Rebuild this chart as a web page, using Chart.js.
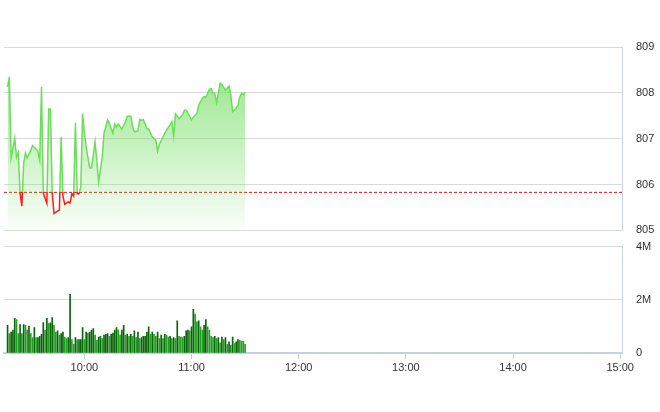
<!DOCTYPE html>
<html>
<head>
<meta charset="utf-8">
<script src="https://cdn.jsdelivr.net/npm/chart.js@4/dist/chart.umd.min.js"></script>
<style>
  html, body { margin: 0; padding: 0; background: #fff; }
  body { width: 660px; height: 412px; position: relative; overflow: hidden; }
  canvas { position: absolute; left: 0; }
  #price { top: 0; }
  #volume { top: 226px; }
</style>
</head>
<body>
<canvas id="volume" width="660" height="186"></canvas>
<canvas id="price" width="660" height="251"></canvas>
<script>
// intraday price
const priceTimes = [
  "09:17","09:18","09:19","09:21","09:22","09:23","09:24","09:25","09:26","09:27",
  "09:28","09:30","09:31","09:33","09:34","09:35","09:36","09:37","09:38","09:39",
  "09:40","09:41","09:42","09:43","09:45","09:46","09:47","09:48","09:49","09:51",
  "09:52","09:53","09:54","09:55","09:56","09:57","09:58","09:59","10:00","10:01",
  "10:03","10:04","10:05","10:06","10:08","10:10","10:11","10:13","10:14","10:16",
  "10:17","10:18","10:19","10:21","10:23","10:24","10:26","10:27","10:28","10:30",
  "10:31","10:32","10:33","10:35","10:36","10:38","10:40","10:41","10:42","10:44",
  "10:46","10:48","10:49","10:50","10:51","10:53","10:55","10:56","10:57","10:59",
  "11:00","11:01","11:03","11:04","11:06","11:07","11:08","11:10","11:11","11:12",
  "11:13","11:14","11:16","11:17","11:19","11:20","11:21","11:22","11:23","11:24",
  "11:26","11:27","11:28","11:29","11:30"
];
const priceValues = [
  808.13,808.35,806.58,807.01,806.60,806.70,805.81,805.53,806.47,806.69,
  806.58,806.75,806.85,806.77,806.72,806.53,808.13,805.81,805.70,805.59,
  807.65,807.65,805.81,805.37,805.42,805.44,807.04,805.75,805.57,805.62,
  805.60,805.80,805.75,807.35,805.80,805.80,805.95,807.55,807.12,806.82,
  806.36,806.36,806.64,806.93,806.06,806.60,807.12,807.41,807.33,807.12,
  807.32,807.25,807.32,807.21,807.37,807.49,807.49,807.26,807.15,807.17,
  807.42,807.40,807.42,807.22,807.21,807.04,806.97,806.73,806.88,807.04,
  807.19,807.30,807.37,807.06,807.54,807.44,807.52,807.62,807.62,807.49,
  807.41,807.47,807.55,807.73,807.88,807.92,807.90,808.08,808.09,808.00,
  807.99,807.78,808.21,808.18,808.06,808.10,808.15,807.95,807.59,807.62,
  807.73,807.91,807.99,807.96,808.02
];
const refPrice = 805.83;

// volume per minute (millions), first bar at volumeStart
const volumeStart = "09:17";
const volumeValues = [
  1.04,0.73,0.79,0.86,1.30,1.26,0.73,1.07,0.73,1.07,
  1.04,0.86,1.01,0.73,0.58,0.96,0.58,0.58,0.63,0.70,
  1.14,0.86,1.30,1.11,1.13,1.33,1.04,0.79,0.83,0.67,
  0.73,0.79,0.60,0.54,0.58,2.21,
  0.50,0.33,0.58,0.50,0.50,0.50,0.96,0.50,0.79,0.75,
  0.79,0.86,0.92,0.67,0.48,0.60,0.63,0.54,0.67,
  0.70,0.73,0.63,0.70,0.75,0.86,0.96,0.86,0.67,
  0.86,1.04,0.67,0.70,0.63,0.70,0.63,0.83,0.58,0.79,0.54,0.58,0.63,
  0.63,0.79,0.98,0.70,0.79,0.70,0.63,0.79,0.54,0.67,0.54,0.70,0.67,0.60,0.63,0.54,0.58,0.54,
  1.21,0.63,0.60,0.58,0.63,0.83,0.86,0.83,0.98,1.64,
  1.46,1.17,1.21,0.98,0.86,1.04,1.26,0.98,
  0.86,0.63,0.58,0.63,0.54,0.58,
  0.38,0.60,0.50,0.58,0.33,0.42,0.29,0.60,0.35,0.42,
  0.50,0.48,0.45,0.44,0.33
];

const sessionStart = "09:15";
const sessionEnd = "15:00";
const timeTicks = ["10:00","11:00","12:00","13:00","14:00","15:00"];
const priceTicks = [805, 806, 807, 808, 809];
const volumeTicks = [0, 2, 4];

function toMin(t) {
  const p = t.split(":");
  return parseInt(p[0], 10) * 60 + parseInt(p[1], 10);
}
function fmtTime(m) {
  const h = Math.floor(m / 60), mm = m % 60;
  return h + ":" + (mm < 10 ? "0" : "") + mm;
}

const xMin = toMin(sessionStart);
const xMax = toMin(sessionEnd) + 1;
const FONT = { family: "'Liberation Sans', Arial, sans-serif", size: 11 };
const GREEN = "#6ade58";
const RED = "#ff1a1a";

const pricePoints = priceTimes.map((t, i) => ({ x: toMin(t), y: priceValues[i] }));
const v0 = toMin(volumeStart);
const volumePoints = volumeValues.map((v, i) => ({ x: v0 + i, y: v }));
const volumeColors = volumeValues.map((v, i) => (i > 0 && v < volumeValues[i - 1] ? "#22a022" : "#0a640a"));

function lineColor(ctx) {
  const chart = ctx.chart;
  const a = chart.chartArea;
  if (!a) return GREEN;
  const yRef = chart.scales.y.getPixelForValue(refPrice);
  const stop = Math.min(1, Math.max(0, (yRef - a.top) / (a.bottom - a.top)));
  const g = chart.ctx.createLinearGradient(0, a.top, 0, a.bottom);
  g.addColorStop(0, GREEN);
  g.addColorStop(stop, GREEN);
  g.addColorStop(stop, RED);
  g.addColorStop(1, RED);
  return g;
}

function fillColor(ctx) {
  const chart = ctx.chart;
  const a = chart.chartArea;
  if (!a) return "rgba(0,0,0,0)";
  const g = chart.ctx.createLinearGradient(0, a.top, 0, a.bottom);
  g.addColorStop(0, "rgba(110,220,90,0.80)");
  g.addColorStop(1, "rgba(110,220,90,0.03)");
  return g;
}

new Chart(document.getElementById("price"), {
  type: "line",
  data: {
    datasets: [
      {
        data: pricePoints,
        borderColor: lineColor,
        backgroundColor: fillColor,
        borderWidth: 1.5,
        pointRadius: 0,
        fill: "start",
        tension: 0,
      },
      {
        data: [{ x: xMin, y: refPrice }, { x: xMax, y: refPrice }],
        borderColor: "#e01010",
        borderWidth: 1,
        borderDash: [3, 2],
        pointRadius: 0,
        fill: false,
      },
    ],
  },
  options: {
    responsive: false,
    animation: false,
    layout: { padding: { left: 4, top: 47, bottom: 10, right: 0 } },
    plugins: { legend: { display: false }, tooltip: { enabled: false } },
    scales: {
      x: { type: "linear", min: xMin, max: xMax, display: false },
      y: {
        position: "right",
        min: 805,
        max: 809,
        afterBuildTicks: (s) => { s.ticks = priceTicks.map((v) => ({ value: v })); },
        ticks: { padding: 14, color: "#333", font: FONT },
        grid: { color: "#dadada", drawTicks: false },
        border: { color: "#c8d5e3" },
        afterFit: (s) => { s.width = 38; },
      },
    },
  },
});

new Chart(document.getElementById("volume"), {
  type: "bar",
  data: {
    datasets: [
      {
        data: volumePoints,
        backgroundColor: volumeColors,
        barThickness: 1,
      },
    ],
  },
  options: {
    responsive: false,
    animation: false,
    layout: { padding: { left: 4, top: 12, bottom: 29, right: 0 } },
    plugins: { legend: { display: false }, tooltip: { enabled: false } },
    scales: {
      x: {
        type: "linear",
        min: xMin,
        max: xMax,
        offset: false,
        afterBuildTicks: (s) => { s.ticks = timeTicks.map((t) => ({ value: toMin(t) })); },
        ticks: { callback: (v) => fmtTime(v), color: "#333", font: FONT, padding: 2, maxRotation: 0, autoSkip: false },
        grid: { offset: false, drawOnChartArea: false, drawTicks: true, tickLength: 6, color: "#c3d1e0" },
        border: { color: "#c3d1e0", width: 2 },
        afterFit: (s) => { s.height = 30; },
      },
      y: {
        position: "right",
        min: 0,
        max: 4,
        afterBuildTicks: (s) => { s.ticks = volumeTicks.map((v) => ({ value: v })); },
        ticks: { padding: 14, color: "#333", font: FONT, callback: (v) => (v === 0 ? "0" : v + "M") },
        grid: { color: "#dadada", drawTicks: false },
        border: { color: "#c8d5e3" },
        afterFit: (s) => { s.width = 38; },
      },
    },
  },
});
</script>
</body>
</html>
